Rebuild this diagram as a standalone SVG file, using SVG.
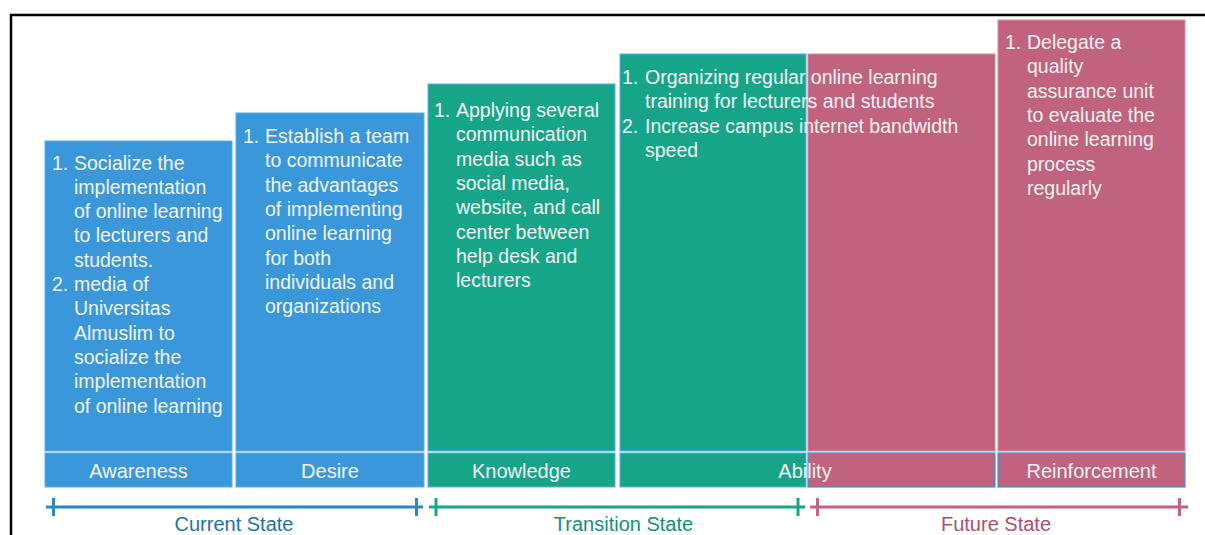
<svg xmlns="http://www.w3.org/2000/svg" width="1205" height="535" viewBox="0 0 1205 535">
<style>
text{font-family:"Liberation Sans",Arial,sans-serif;font-size:20px}
.t{fill:#F4F4F4}
.b{font-size:19.5px}
.c{text-anchor:middle}
.blue{fill:#3A98DA;stroke:#5AAEE6;stroke-width:1}
.green{fill:#17A589;stroke:#5AAEE6;stroke-width:1}
.pink{fill:#C1627F;stroke:#D98AA2;stroke-width:1}
.pinkl{fill:#C1627F;stroke:#3A98DA;stroke-width:1.2}
.tl{fill:none;stroke-width:3}
</style>
<rect width="1205" height="535" fill="#fff"/>
<path d="M11 535V15H1205" fill="none" stroke="#000" stroke-width="2.5"/>
<g id="awareness">
<rect class="blue" x="45" y="141" width="187" height="310"/>
<text class="t b"><tspan x="52" y="169.5">1.</tspan><tspan x="74" y="169.5">Socialize the</tspan><tspan x="74" y="193.8">implementation</tspan><tspan x="74" y="218.1">of online learning</tspan><tspan x="74" y="242.4">to lecturers and</tspan><tspan x="74" y="266.7">students.</tspan><tspan x="52" y="291">2.</tspan><tspan x="74" y="291">media of</tspan><tspan x="74" y="315.3">Universitas</tspan><tspan x="74" y="339.6">Almuslim to</tspan><tspan x="74" y="363.9">socialize the</tspan><tspan x="74" y="388.2">implementation</tspan><tspan x="74" y="412.5">of online learning</tspan></text>
<rect class="blue" x="45" y="453" width="187" height="34"/>
<text class="t c" x="138.5" y="477.5">Awareness</text>
</g>
<g id="desire">
<rect class="blue" x="236" y="113" width="188" height="338"/>
<text class="t b"><tspan x="243" y="143">1.</tspan><tspan x="265" y="143">Establish a team</tspan><tspan x="265" y="167.3">to communicate</tspan><tspan x="265" y="191.6">the advantages</tspan><tspan x="265" y="215.9">of implementing</tspan><tspan x="265" y="240.2">online learning</tspan><tspan x="265" y="264.5">for both</tspan><tspan x="265" y="288.8">individuals and</tspan><tspan x="265" y="313.1">organizations</tspan></text>
<rect class="blue" x="236" y="453" width="188" height="34"/>
<text class="t c" x="330" y="477.5">Desire</text>
</g>
<g id="knowledge">
<rect class="green" x="428" y="84" width="187" height="367"/>
<text class="t b"><tspan x="434" y="117">1.</tspan><tspan x="456" y="117">Applying several</tspan><tspan x="456" y="141.3">communication</tspan><tspan x="456" y="165.6">media such as</tspan><tspan x="456" y="189.9">social media,</tspan><tspan x="456" y="214.2">website, and call</tspan><tspan x="456" y="238.5">center between</tspan><tspan x="456" y="262.8">help desk and</tspan><tspan x="456" y="287.1">lecturers</tspan></text>
<rect class="green" x="428" y="453" width="187" height="34"/>
<text class="t c" x="521.5" y="477.5">Knowledge</text>
</g>
<g id="ability">
<rect class="green" x="620" y="54" width="186" height="397"/>
<rect class="pink" x="808" y="54" width="187" height="397"/>
<rect class="green" x="620" y="453" width="186" height="34"/>
<rect class="pinkl" x="808" y="453" width="187" height="34"/>
<text class="t b"><tspan x="622" y="84">1.</tspan><tspan x="645" y="84">Organizing regular online learning</tspan><tspan x="645" y="108.3">training for lecturers and students</tspan><tspan x="622" y="132.6">2.</tspan><tspan x="645" y="132.6">Increase campus internet bandwidth</tspan><tspan x="645" y="156.9">speed</tspan></text>
<text class="t c" x="805" y="477.5">Ability</text>
</g>
<g id="reinforcement">
<rect class="pink" x="998" y="20" width="187" height="431"/>
<text class="t b"><tspan x="1005" y="49">1.</tspan><tspan x="1027" y="49">Delegate a</tspan><tspan x="1027" y="73.3">quality</tspan><tspan x="1027" y="97.6">assurance unit</tspan><tspan x="1027" y="121.9">to evaluate the</tspan><tspan x="1027" y="146.2">online learning</tspan><tspan x="1027" y="170.5">process</tspan><tspan x="1027" y="194.8">regularly</tspan></text>
<rect class="pinkl" x="998" y="453" width="187" height="34"/>
<text class="t c" x="1091.5" y="477.5">Reinforcement</text>
</g>
<g id="connectors">
<path class="tl" stroke="#2E86C1" d="M46 507H423M53.5 498V516M416.5 498V516"/>
<path class="tl" stroke="#17A589" d="M429 507H805M436 498V516M798 498V516"/>
<path class="tl" stroke="#C1627F" d="M810 507H1188M817.5 498V516M1179.5 498V516"/>
</g>
<g id="states">
<text class="c" x="234" y="531" fill="#2471A3">Current State</text>
<text class="c" x="623.5" y="531" fill="#148F77">Transition State</text>
<text class="c" x="996" y="531" fill="#A94F6E">Future State</text>
</g>
</svg>
